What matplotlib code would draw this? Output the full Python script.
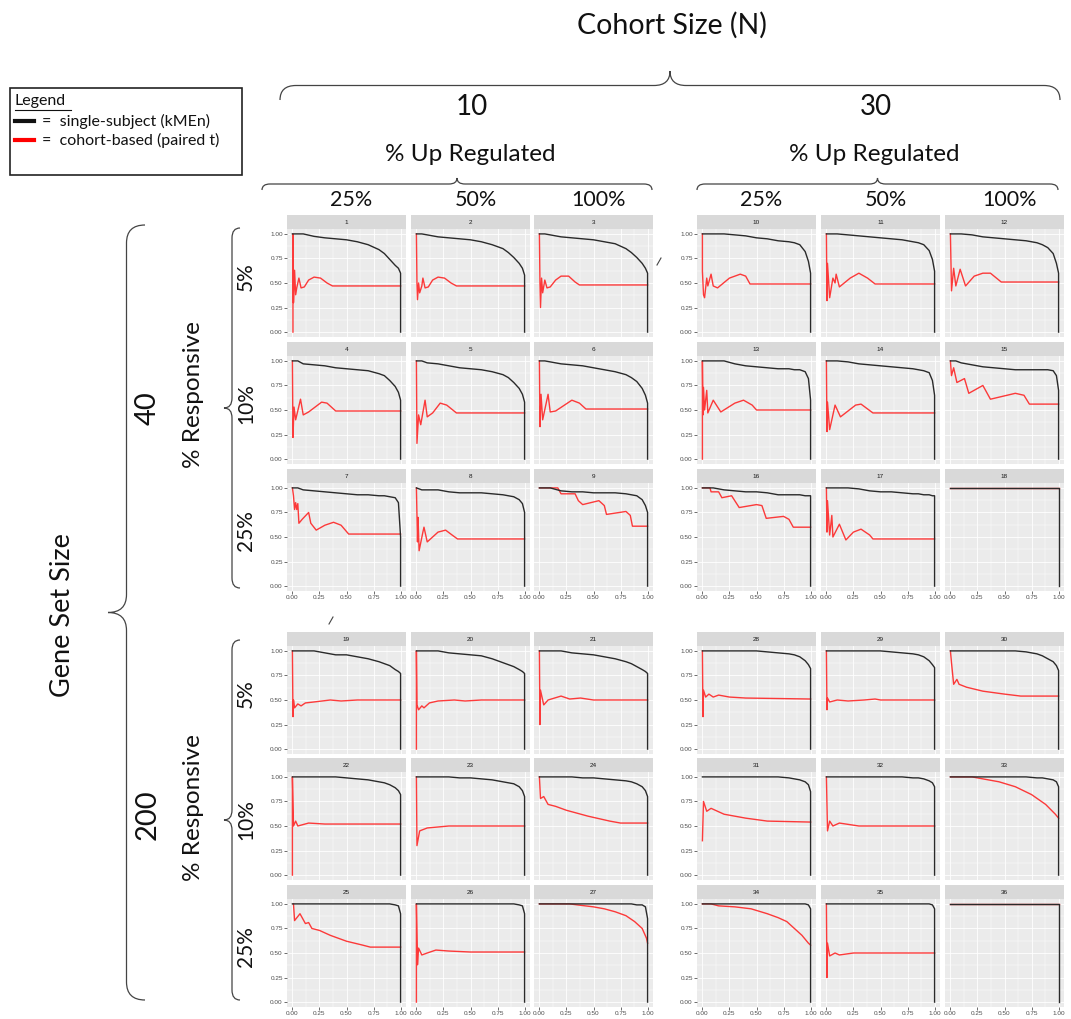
import matplotlib.pyplot as plt
from matplotlib.patches import Rectangle, PathPatch
from matplotlib.path import Path

plt.rcParams['font.family'] = ['Lato', 'DejaVu Sans']

# ---- labels ----
cohort_sizes = ["10", "30"]
up_regulated = ["25%", "50%", "100%"]
gene_set_sizes = ["40", "200"]
responsive = ["5%", "10%", "25%"]
ticks = [0.0, 0.25, 0.5, 0.75, 1.0]

# ---- single-subject (kMEn) curves: shared x grid, y per panel ----
kmen_x = [0.0, 0.05, 0.1, 0.2, 0.3, 0.4, 0.5, 0.6, 0.7, 0.8, 0.85, 0.9, 0.95, 0.98, 1.0, 1.0]
kmen_y = {
    1: [1.0, 1.0, 1.0, 0.975, 0.96, 0.95, 0.94, 0.92, 0.89, 0.84, 0.80, 0.74, 0.68, 0.65, 0.60, 0.0],
    2: [1.0, 1.0, 0.99, 0.97, 0.96, 0.95, 0.94, 0.92, 0.89, 0.85, 0.81, 0.76, 0.70, 0.65, 0.58, 0.0],
    3: [1.0, 1.0, 0.99, 0.97, 0.96, 0.95, 0.94, 0.92, 0.90, 0.85, 0.81, 0.76, 0.70, 0.65, 0.60, 0.0],
    4: [1.0, 1.0, 0.97, 0.96, 0.95, 0.93, 0.92, 0.91, 0.90, 0.87, 0.85, 0.80, 0.74, 0.68, 0.60, 0.0],
    5: [1.0, 1.0, 0.98, 0.97, 0.95, 0.93, 0.92, 0.91, 0.89, 0.86, 0.83, 0.78, 0.72, 0.66, 0.58, 0.0],
    6: [1.0, 1.0, 0.99, 0.97, 0.96, 0.95, 0.93, 0.91, 0.89, 0.86, 0.83, 0.79, 0.72, 0.65, 0.57, 0.0],
    7: [1.0, 1.0, 0.98, 0.97, 0.96, 0.95, 0.94, 0.93, 0.93, 0.92, 0.92, 0.91, 0.90, 0.85, 0.50, 0.0],
    8: [1.0, 0.98, 0.98, 0.98, 0.96, 0.95, 0.95, 0.95, 0.94, 0.93, 0.92, 0.91, 0.88, 0.84, 0.75, 0.0],
    9: [1.0, 1.0, 1.0, 0.97, 0.96, 0.96, 0.95, 0.95, 0.95, 0.94, 0.93, 0.92, 0.88, 0.82, 0.75, 0.0],
    10: [1.0, 1.0, 1.0, 1.0, 0.99, 0.98, 0.96, 0.95, 0.93, 0.92, 0.91, 0.89, 0.82, 0.72, 0.60, 0.0],
    11: [1.0, 1.0, 1.0, 0.99, 0.98, 0.97, 0.96, 0.95, 0.94, 0.92, 0.91, 0.89, 0.83, 0.74, 0.62, 0.0],
    12: [1.0, 1.0, 1.0, 0.99, 0.97, 0.96, 0.95, 0.94, 0.93, 0.91, 0.89, 0.86, 0.80, 0.70, 0.60, 0.0],
    13: [1.0, 1.0, 1.0, 1.0, 0.97, 0.95, 0.94, 0.93, 0.92, 0.92, 0.91, 0.91, 0.89, 0.82, 0.60, 0.0],
    14: [1.0, 1.0, 1.0, 0.99, 0.97, 0.96, 0.95, 0.94, 0.93, 0.92, 0.91, 0.90, 0.88, 0.80, 0.65, 0.0],
    15: [1.0, 1.0, 0.98, 0.96, 0.94, 0.93, 0.92, 0.91, 0.91, 0.91, 0.91, 0.91, 0.90, 0.85, 0.70, 0.0],
    16: [1.0, 1.0, 1.0, 0.98, 0.97, 0.96, 0.96, 0.95, 0.93, 0.93, 0.93, 0.93, 0.92, 0.92, 0.92, 0.0],
    17: [1.0, 1.0, 1.0, 1.0, 0.99, 0.97, 0.96, 0.96, 0.95, 0.94, 0.94, 0.93, 0.93, 0.92, 0.92, 0.0],
    18: [1.0, 1.0, 1.0, 1.0, 1.0, 1.0, 1.0, 1.0, 1.0, 1.0, 1.0, 1.0, 1.0, 1.0, 1.0, 0.0],
    19: [1.0, 1.0, 1.0, 1.0, 0.98, 0.96, 0.96, 0.94, 0.92, 0.89, 0.87, 0.85, 0.81, 0.79, 0.77, 0.0],
    20: [1.0, 1.0, 1.0, 1.0, 0.98, 0.97, 0.96, 0.95, 0.92, 0.88, 0.86, 0.84, 0.81, 0.79, 0.77, 0.0],
    21: [1.0, 1.0, 1.0, 1.0, 0.98, 0.97, 0.96, 0.94, 0.92, 0.89, 0.87, 0.84, 0.81, 0.79, 0.77, 0.0],
    22: [1.0, 1.0, 1.0, 1.0, 1.0, 1.0, 0.99, 0.98, 0.97, 0.95, 0.94, 0.92, 0.89, 0.86, 0.82, 0.0],
    23: [1.0, 1.0, 1.0, 1.0, 1.0, 0.99, 0.99, 0.98, 0.97, 0.95, 0.94, 0.93, 0.90, 0.86, 0.80, 0.0],
    24: [1.0, 1.0, 1.0, 1.0, 1.0, 0.99, 0.99, 0.98, 0.97, 0.96, 0.95, 0.93, 0.90, 0.86, 0.80, 0.0],
    25: [1.0, 1.0, 1.0, 1.0, 1.0, 1.0, 1.0, 1.0, 1.0, 1.0, 1.0, 1.0, 0.99, 0.98, 0.90, 0.0],
    26: [1.0, 1.0, 1.0, 1.0, 1.0, 1.0, 1.0, 1.0, 1.0, 1.0, 1.0, 1.0, 0.99, 0.98, 0.90, 0.0],
    27: [1.0, 1.0, 1.0, 1.0, 1.0, 1.0, 1.0, 1.0, 1.0, 1.0, 1.0, 0.99, 0.99, 0.97, 0.85, 0.0],
    28: [1.0, 1.0, 1.0, 1.0, 1.0, 1.0, 1.0, 0.99, 0.98, 0.97, 0.96, 0.94, 0.90, 0.86, 0.82, 0.0],
    29: [1.0, 1.0, 1.0, 1.0, 1.0, 1.0, 1.0, 0.99, 0.98, 0.97, 0.96, 0.94, 0.90, 0.86, 0.83, 0.0],
    30: [1.0, 1.0, 1.0, 1.0, 1.0, 1.0, 1.0, 1.0, 0.99, 0.97, 0.95, 0.92, 0.89, 0.85, 0.80, 0.0],
    31: [1.0, 1.0, 1.0, 1.0, 1.0, 1.0, 1.0, 1.0, 1.0, 0.99, 0.98, 0.97, 0.95, 0.92, 0.85, 0.0],
    32: [1.0, 1.0, 1.0, 1.0, 1.0, 1.0, 1.0, 1.0, 1.0, 0.99, 0.99, 0.98, 0.96, 0.94, 0.90, 0.0],
    33: [1.0, 1.0, 1.0, 1.0, 1.0, 1.0, 1.0, 1.0, 1.0, 0.99, 0.99, 0.98, 0.97, 0.95, 0.90, 0.0],
    34: [1.0, 1.0, 1.0, 1.0, 1.0, 1.0, 1.0, 1.0, 1.0, 1.0, 1.0, 1.0, 1.0, 0.99, 0.95, 0.0],
    35: [1.0, 1.0, 1.0, 1.0, 1.0, 1.0, 1.0, 1.0, 1.0, 1.0, 1.0, 1.0, 1.0, 0.99, 0.95, 0.0],
    36: [1.0, 1.0, 1.0, 1.0, 1.0, 1.0, 1.0, 1.0, 1.0, 1.0, 1.0, 1.0, 1.0, 1.0, 1.0, 0.0],
}

# ---- cohort-based (paired t) curves ----
pairedt_x = {
    1: [0.005, 0.005, 0.01, 0.02, 0.03, 0.04, 0.06, 0.08, 0.11, 0.15, 0.2, 0.26, 0.32, 0.37, 1.0],
    2: [0.0, 0.005, 0.01, 0.02, 0.03, 0.05, 0.06, 0.08, 0.11, 0.15, 0.2, 0.26, 0.32, 0.37, 1.0],
    3: [0.0, 0.005, 0.01, 0.02, 0.03, 0.05, 0.07, 0.1, 0.15, 0.2, 0.27, 0.33, 0.37, 1.0],
    4: [0.0, 0.005, 0.015, 0.03, 0.075, 0.1, 0.15, 0.27, 0.32, 0.4, 1.0],
    5: [0.0, 0.005, 0.02, 0.04, 0.08, 0.1, 0.15, 0.22, 0.28, 0.37, 1.0],
    6: [0.0, 0.005, 0.015, 0.03, 0.08, 0.1, 0.15, 0.3, 0.37, 0.43, 1.0],
    7: [0.0, 0.01, 0.02, 0.03, 0.04, 0.05, 0.06, 0.09, 0.15, 0.17, 0.22, 0.3, 0.38, 0.45, 0.52, 1.0],
    8: [0.0, 0.01, 0.015, 0.025, 0.06, 0.07, 0.1, 0.2, 0.27, 0.33, 0.38, 1.0],
    9: [0.0, 0.17, 0.2, 0.33, 0.36, 0.4, 0.55, 0.6, 0.62, 0.8, 0.84, 0.86, 1.0],
    10: [0.0, 0.0, 0.01, 0.02, 0.04, 0.05, 0.08, 0.1, 0.14, 0.25, 0.35, 0.4, 0.44, 1.0],
    11: [0.0, 0.005, 0.01, 0.03, 0.06, 0.08, 0.09, 0.12, 0.22, 0.3, 0.38, 0.45, 1.0],
    12: [0.0, 0.01, 0.03, 0.05, 0.09, 0.14, 0.22, 0.3, 0.37, 0.47, 1.0],
    13: [0.0, 0.0, 0.005, 0.01, 0.02, 0.04, 0.05, 0.1, 0.17, 0.3, 0.38, 0.46, 0.5, 1.0],
    14: [0.0, 0.005, 0.01, 0.03, 0.08, 0.13, 0.27, 0.32, 0.43, 1.0],
    15: [0.0, 0.01, 0.03, 0.06, 0.13, 0.17, 0.3, 0.37, 0.6, 0.68, 0.73, 1.0],
    16: [0.0, 0.07, 0.08, 0.15, 0.18, 0.27, 0.34, 0.5, 0.55, 0.59, 0.75, 0.8, 0.84, 1.0],
    17: [0.0, 0.005, 0.01, 0.03, 0.05, 0.06, 0.12, 0.18, 0.25, 0.32, 0.4, 0.43, 1.0],
    18: [0.0, 1.0],
    19: [0.0, 0.005, 0.01, 0.02, 0.05, 0.08, 0.12, 0.2, 0.35, 0.45, 0.6, 1.0],
    20: [0.0, 0.0, 0.005, 0.02, 0.05, 0.07, 0.12, 0.2, 0.35, 0.45, 0.6, 1.0],
    21: [0.0, 0.005, 0.01, 0.04, 0.08, 0.2, 0.28, 0.38, 0.5, 1.0],
    22: [0.0, 0.0, 0.01, 0.03, 0.05, 0.15, 0.3, 1.0],
    23: [0.0, 0.005, 0.03, 0.1, 0.3, 1.0],
    24: [0.0, 0.01, 0.04, 0.08, 0.15, 0.25, 0.45, 0.65, 0.75, 1.0],
    25: [0.01, 0.02, 0.07, 0.12, 0.15, 0.18, 0.25, 0.35, 0.5, 0.65, 0.72, 1.0],
    26: [0.0, 0.0, 0.01, 0.02, 0.05, 0.1, 0.18, 0.3, 0.5, 1.0],
    27: [0.0, 0.28, 0.35, 0.5, 0.6, 0.7, 0.8, 0.88, 0.95, 0.99, 1.0],
    28: [0.0, 0.005, 0.01, 0.03, 0.06, 0.1, 0.15, 0.25, 0.4, 1.0],
    29: [0.0, 0.005, 0.01, 0.03, 0.1, 0.2, 0.35, 0.45, 0.5, 1.0],
    30: [0.0, 0.01, 0.03, 0.06, 0.08, 0.15, 0.3, 0.5, 0.65, 1.0],
    31: [0.0, 0.01, 0.04, 0.08, 0.2, 0.4, 0.6, 1.0],
    32: [0.0, 0.01, 0.03, 0.06, 0.12, 0.3, 1.0],
    33: [0.0, 0.2, 0.3, 0.45, 0.6, 0.75, 0.88, 0.97, 1.0],
    34: [0.0, 0.08, 0.15, 0.3, 0.45, 0.6, 0.7, 0.78, 0.85, 0.92, 0.98, 1.0],
    35: [0.0, 0.005, 0.01, 0.03, 0.08, 0.12, 0.25, 1.0],
    36: [0.0, 1.0],
}
pairedt_y = {
    1: [0.0, 1.0, 0.3, 0.63, 0.38, 0.45, 0.55, 0.45, 0.46, 0.53, 0.56, 0.55, 0.5, 0.47, 0.47],
    2: [1.0, 0.5, 0.33, 0.5, 0.4, 0.47, 0.55, 0.45, 0.46, 0.53, 0.56, 0.55, 0.5, 0.47, 0.47],
    3: [1.0, 0.5, 0.25, 0.55, 0.4, 0.53, 0.45, 0.46, 0.53, 0.57, 0.57, 0.51, 0.48, 0.48],
    4: [1.0, 0.22, 0.53, 0.4, 0.61, 0.45, 0.48, 0.58, 0.57, 0.49, 0.49],
    5: [1.0, 0.16, 0.45, 0.35, 0.6, 0.43, 0.47, 0.57, 0.55, 0.47, 0.47],
    6: [1.0, 0.33, 0.66, 0.4, 0.66, 0.48, 0.49, 0.6, 0.57, 0.51, 0.51],
    7: [1.0, 0.92, 0.78, 0.85, 0.78, 0.84, 0.64, 0.68, 0.75, 0.64, 0.57, 0.62, 0.65, 0.62, 0.53, 0.53],
    8: [1.0, 0.45, 0.7, 0.36, 0.55, 0.6, 0.45, 0.55, 0.57, 0.52, 0.48, 0.48],
    9: [1.0, 1.0, 0.94, 0.94, 0.87, 0.83, 0.87, 0.82, 0.73, 0.76, 0.72, 0.61, 0.61],
    10: [1.0, 0.62, 0.38, 0.35, 0.55, 0.47, 0.59, 0.47, 0.45, 0.55, 0.59, 0.57, 0.49, 0.49],
    11: [1.0, 0.32, 0.7, 0.35, 0.55, 0.5, 0.59, 0.46, 0.55, 0.6, 0.55, 0.49, 0.49],
    12: [1.0, 0.42, 0.65, 0.47, 0.64, 0.47, 0.57, 0.6, 0.6, 0.51, 0.51],
    13: [0.0, 1.0, 0.45, 0.73, 0.5, 0.7, 0.47, 0.6, 0.48, 0.57, 0.6, 0.55, 0.5, 0.5],
    14: [1.0, 0.28, 0.58, 0.3, 0.55, 0.43, 0.55, 0.56, 0.47, 0.47],
    15: [1.0, 0.85, 0.93, 0.78, 0.82, 0.67, 0.75, 0.61, 0.67, 0.65, 0.56, 0.56],
    16: [1.0, 1.0, 0.96, 0.96, 0.9, 0.92, 0.8, 0.83, 0.82, 0.69, 0.71, 0.68, 0.6, 0.6],
    17: [1.0, 0.55, 0.87, 0.52, 0.72, 0.5, 0.63, 0.47, 0.55, 0.58, 0.52, 0.48, 0.48],
    18: [1.0, 1.0],
    19: [1.0, 0.33, 0.5, 0.42, 0.46, 0.44, 0.47, 0.48, 0.5, 0.49, 0.5, 0.5],
    20: [0.0, 1.0, 0.45, 0.4, 0.44, 0.42, 0.47, 0.49, 0.5, 0.49, 0.5, 0.5],
    21: [1.0, 0.25, 0.6, 0.45, 0.5, 0.54, 0.51, 0.52, 0.5, 0.5],
    22: [0.0, 1.0, 0.5, 0.55, 0.5, 0.53, 0.52, 0.52],
    23: [1.0, 0.3, 0.45, 0.48, 0.5, 0.5],
    24: [1.0, 0.78, 0.8, 0.72, 0.7, 0.66, 0.6, 0.55, 0.53, 0.53],
    25: [1.0, 0.83, 0.9, 0.8, 0.81, 0.75, 0.73, 0.68, 0.62, 0.58, 0.56, 0.56],
    26: [0.0, 1.0, 0.38, 0.55, 0.48, 0.5, 0.53, 0.52, 0.51, 0.51],
    27: [1.0, 1.0, 0.99, 0.97, 0.95, 0.92, 0.88, 0.82, 0.75, 0.65, 0.6],
    28: [1.0, 0.33, 0.6, 0.53, 0.56, 0.53, 0.55, 0.53, 0.52, 0.51],
    29: [1.0, 0.4, 0.52, 0.48, 0.5, 0.49, 0.5, 0.51, 0.5, 0.5],
    30: [1.0, 0.88, 0.66, 0.71, 0.66, 0.63, 0.59, 0.56, 0.54, 0.54],
    31: [0.35, 0.75, 0.65, 0.68, 0.62, 0.58, 0.55, 0.54],
    32: [1.0, 0.45, 0.55, 0.5, 0.53, 0.5, 0.5],
    33: [1.0, 1.0, 0.98, 0.95, 0.9, 0.82, 0.72, 0.62, 0.58],
    34: [1.0, 1.0, 0.98, 0.97, 0.95, 0.9, 0.86, 0.82, 0.75, 0.68, 0.6, 0.58],
    35: [1.0, 0.25, 0.6, 0.47, 0.5, 0.48, 0.5, 0.5],
    36: [1.0, 1.0],
}

# ---- layout (pixels) ----
W, H = 1071, 1019
fig = plt.figure(figsize=(W / 100, H / 100), dpi=100)
col_left = [[287, 411, 534], [697, 821, 945]]
row_top = [[215, 342, 469], [632, 758, 885]]
PW, STRIP, PH = 119, 14, 108


def px_axes(left, top, width, height):
    return fig.add_axes([left / W, 1 - (top + height) / H, width / W, height / H])


ov = fig.add_axes([0, 0, 1, 1], facecolor='none', zorder=10)
ov.set_xlim(0, W)
ov.set_ylim(H, 0)
ov.axis('off')

for g in range(2):
    for c in range(2):
        for r in range(3):
            for k in range(3):
                pid = 18 * g + 9 * c + 3 * r + k + 1
                left = col_left[c][k]
                top = row_top[g][r]
                ax = px_axes(left, top + STRIP, PW, PH)
                ax.set_facecolor('#EBEBEB')
                for s in ax.spines.values():
                    s.set_visible(False)
                ax.set_xlim(-0.05, 1.05)
                ax.set_ylim(-0.05, 1.05)
                ax.set_xticks(ticks)
                ax.set_yticks(ticks)
                ax.set_xticks([0.125, 0.375, 0.625, 0.875], minor=True)
                ax.set_yticks([0.125, 0.375, 0.625, 0.875], minor=True)
                ax.grid(which='major', color='white', lw=0.6)
                ax.grid(which='minor', color='white', lw=0.3)
                ax.set_axisbelow(True)
                ax.set_xticklabels(['%.2f' % t for t in ticks], family='Liberation Sans')
                ax.set_yticklabels(['%.2f' % t for t in ticks], family='Liberation Sans')
                ax.tick_params(which='major', length=2, width=0.5, color='#333333',
                               labelsize=4.6, labelcolor='#4D4D4D', pad=1)
                ax.tick_params(which='minor', length=0)
                ax.tick_params(left=(k == 0), labelleft=(k == 0),
                               bottom=(r == 2), labelbottom=(r == 2))
                ax.plot(pairedt_x[pid], pairedt_y[pid], color='#FF1A1A', lw=1.0, alpha=0.85)
                ax.plot(kmen_x, kmen_y[pid], color='#2A2A2A', lw=1.0)
                ov.add_patch(Rectangle((left, top), PW, STRIP, fc='#D9D9D9', ec='none'))
                ov.text(left + PW / 2, top + STRIP / 2 + 0.5, str(pid), fontsize=4.6,
                        ha='center', va='center', color='#1A1A1A', family='Liberation Sans')


def brace(x0, y0, x1, y1, depth, r, nx, ny):
    # curly brace from (x0,y0) to (x1,y1), tip pushed by depth along (nx,ny)
    L = ((x1 - x0) ** 2 + (y1 - y0) ** 2) ** 0.5
    ax_, ay_ = (x1 - x0) / L, (y1 - y0) / L
    h = depth / 2
    uv = [(0, 0), (0, h), (r, h), (L / 2 - r, h), (L / 2, h), (L / 2, depth),
          (L / 2, h), (L / 2 + r, h), (L - r, h), (L, h), (L, 0)]
    codes = [Path.MOVETO, Path.CURVE3, Path.CURVE3, Path.LINETO, Path.CURVE3, Path.CURVE3,
             Path.CURVE3, Path.CURVE3, Path.LINETO, Path.CURVE3, Path.CURVE3]
    verts = [(x0 + u * ax_ + v * nx, y0 + u * ay_ + v * ny) for u, v in uv]
    ov.add_patch(PathPatch(Path(verts, codes), fc='none', ec='#444444', lw=0.9))


# top headers
ov.text(672, 25, "Cohort Size (N)", fontsize=20.5, ha='center', va='center', color='#111111')
brace(280, 100, 1060, 100, 29, 16, 0, -1)
for c, cx in enumerate([472, 876]):
    ov.text(cx, 107, cohort_sizes[c], fontsize=20, ha='center', va='center', color='#111111')
    ov.text(cx - 2, 154, "% Up Regulated", fontsize=17.5, ha='center', va='center', color='#111111')
brace(262, 190, 652, 190, 12, 8, 0, -1)
brace(697, 190, 1058, 190, 12, 8, 0, -1)
for c in range(2):
    for k in range(3):
        ov.text(col_left[c][k] + PW / 2 + 5, 200, up_regulated[k], fontsize=15.5,
                ha='center', va='center', color='#111111')

# left headers
ov.text(62, 615, "Gene Set Size", fontsize=19.5, rotation=90, ha='center', va='center', color='#111111')
brace(145, 225, 145, 1000, 37, 18, -1, 0)
for g, cy in enumerate([408, 815]):
    ov.text(148, cy, gene_set_sizes[g], fontsize=21, rotation=90, ha='center', va='center',
            color='#111111')
for g, cy in enumerate([395, 808]):
    ov.text(194, cy, "% Responsive", fontsize=17.5, rotation=90, ha='center', va='center',
            color='#111111')
brace(240, 228, 240, 588, 16, 10, -1, 0)
brace(240, 640, 240, 1000, 16, 10, -1, 0)
for g in range(2):
    for r in range(3):
        ov.text(246, row_top[g][r] + STRIP + PH / 2 - 6, responsive[r], fontsize=15,
                rotation=90, ha='center', va='center', color='#111111')

# small stray marks
ov.plot([657, 661], [265, 258], color='#444444', lw=0.8)
ov.plot([329, 333], [624, 617], color='#444444', lw=0.8)

# legend box
ov.add_patch(Rectangle((10, 88), 232, 87, fill=False, ec='#222222', lw=1.2))
ov.text(15, 101, "Legend", fontsize=11.5, ha='left', va='center', color='#111111')
ov.plot([15, 71], [110, 110], color='#111111', lw=0.8)
ov.plot([15, 34], [121, 121], color='#111111', lw=3)
ov.text(42, 121, "=  single-subject (kMEn)", fontsize=11.5, ha='left', va='center',
        color='#111111')
ov.plot([15, 34], [140, 140], color='#FF0000', lw=3)
ov.text(42, 140, "=  cohort-based (paired t)", fontsize=11.5, ha='left', va='center',
        color='#111111')

fig.savefig('out.png', dpi=100, facecolor='white')
